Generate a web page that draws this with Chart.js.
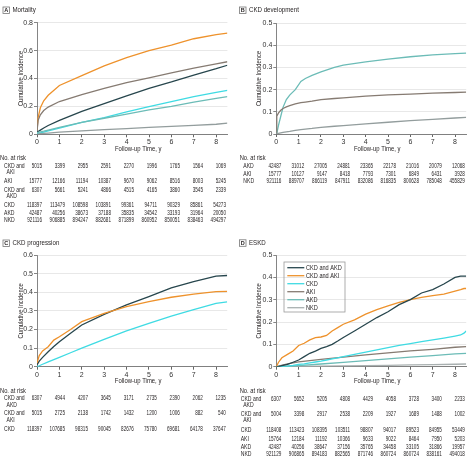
<!DOCTYPE html>
<html lang="en">
<head>
  <meta charset="UTF-8" />
  <title>Cumulative incidence by kidney disease group</title>
  <script src="https://cdn.jsdelivr.net/npm/chart.js@4.4.0/dist/chart.umd.min.js"></script>
  <style>
body { margin: 0; background: #fff; width: 467px; height: 463px; position: relative; overflow: hidden; }
canvas { position: absolute; }
  </style>
</head>
<body>
  <canvas id="chA" width="233" height="230" style="left:0;top:0"></canvas>
  <canvas id="chB" width="234" height="230" style="left:233px;top:0"></canvas>
  <canvas id="chC" width="233" height="233" style="left:0;top:230px"></canvas>
  <canvas id="chD" width="234" height="233" style="left:233px;top:230px"></canvas>

  <script>
    // x ticks / risk table columns
    const years = [0, 1, 2, 3, 4, 5, 6, 7, 8];
    const X_MAX = 8.5;

    // A - mortality
    const aX       = [0, 0.05, 0.15, 0.3, 0.5, 1, 2, 3, 4, 5, 6, 7, 8, 8.5];
    const aCkdAki  = [0.03, 0.12, 0.19, 0.24, 0.28, 0.35, 0.42, 0.49, 0.55, 0.60, 0.64, 0.685, 0.715, 0.725];
    const aAki     = [0.02, 0.10, 0.14, 0.17, 0.195, 0.235, 0.285, 0.33, 0.37, 0.405, 0.44, 0.475, 0.505, 0.52];
    const aCkdAkd  = [0.015, 0.02, 0.03, 0.045, 0.063, 0.10, 0.165, 0.22, 0.275, 0.33, 0.375, 0.425, 0.47, 0.495];
    const aCkd     = [0.005, 0.007, 0.01, 0.015, 0.025, 0.045, 0.085, 0.12, 0.16, 0.198, 0.235, 0.27, 0.30, 0.315];
    const aAkd     = [0.01, 0.013, 0.017, 0.022, 0.03, 0.05, 0.085, 0.115, 0.145, 0.175, 0.20, 0.23, 0.258, 0.27];
    const aNkd     = [0, 0.002, 0.004, 0.006, 0.009, 0.016, 0.025, 0.033, 0.041, 0.049, 0.057, 0.064, 0.072, 0.08];
    const aYTicks  = [0, 0.2, 0.4, 0.6, 0.8];

    // B - CKD development
    const bX    = [0, 0.02, 0.1, 0.2, 0.3, 0.45, 0.6, 0.85, 1.1, 1.3, 1.6, 2, 2.6, 3, 4, 5, 6, 7, 8, 8.5];
    const bAkd  = [0, 0.002, 0.04, 0.08, 0.12, 0.155, 0.175, 0.20, 0.237, 0.25, 0.264, 0.28, 0.30, 0.31, 0.325, 0.337, 0.348, 0.356, 0.362, 0.364];
    const bAki  = [0, 0.08, 0.095, 0.107, 0.115, 0.122, 0.128, 0.136, 0.141, 0.144, 0.148, 0.155, 0.16, 0.163, 0.171, 0.176, 0.18, 0.184, 0.187, 0.189];
    const bNkd  = [0, 0.001, 0.003, 0.005, 0.007, 0.01, 0.012, 0.016, 0.02, 0.022, 0.025, 0.03, 0.035, 0.038, 0.046, 0.053, 0.06, 0.066, 0.072, 0.075];
    const bYTicks = [0, 0.1, 0.2, 0.3, 0.4, 0.5];

    // C - CKD progression
    const cX      = [0, 0.1, 0.25, 0.5, 0.75, 1, 1.5, 2, 3, 4, 5, 6, 7, 8, 8.5];
    const cCkdAkd = [0.01, 0.03, 0.05, 0.08, 0.108, 0.134, 0.18, 0.224, 0.281, 0.332, 0.376, 0.423, 0.457, 0.487, 0.49];
    const cCkdAki = [0.02, 0.06, 0.085, 0.107, 0.143, 0.161, 0.20, 0.242, 0.287, 0.323, 0.35, 0.373, 0.39, 0.403, 0.405];
    const cCkd    = [0, 0.005, 0.013, 0.026, 0.038, 0.05, 0.075, 0.10, 0.147, 0.193, 0.233, 0.272, 0.307, 0.34, 0.348];
    const cYTicks = [0, 0.1, 0.2, 0.3, 0.4, 0.5, 0.6];

    // D - ESKD
    const dX      = [0, 0.1, 0.25, 0.5, 0.75, 1, 1.25, 1.5, 1.75, 2, 2.25, 2.5, 2.75, 3, 3.5, 4, 4.5, 5, 5.5, 6, 6.5, 7, 7.5, 8, 8.25, 8.4, 8.5];
    const dCkdAkd = [0, 0, 0.005, 0.01, 0.02, 0.03, 0.045, 0.06, 0.07, 0.082, 0.09, 0.10, 0.115, 0.131, 0.16, 0.19, 0.22, 0.246, 0.278, 0.30, 0.33, 0.345, 0.37, 0.40, 0.405, 0.405, 0.405];
    const dCkdAki = [0, 0.02, 0.04, 0.055, 0.07, 0.095, 0.105, 0.12, 0.13, 0.133, 0.14, 0.16, 0.175, 0.19, 0.21, 0.235, 0.255, 0.272, 0.288, 0.30, 0.31, 0.318, 0.325, 0.338, 0.345, 0.35, 0.35];
    const dCkd    = [0, 0, 0.001, 0.003, 0.006, 0.01, 0.013, 0.017, 0.021, 0.025, 0.03, 0.035, 0.04, 0.045, 0.055, 0.065, 0.075, 0.085, 0.095, 0.103, 0.112, 0.12, 0.128, 0.137, 0.142, 0.15, 0.16];
    const dXs     = [0, 0.5, 1, 2, 3, 4, 5, 6, 7, 8, 8.5];
    const dAki    = [0, 0.013, 0.022, 0.033, 0.043, 0.053, 0.062, 0.071, 0.078, 0.087, 0.09];
    const dAkd    = [0, 0.002, 0.005, 0.012, 0.019, 0.027, 0.035, 0.043, 0.05, 0.057, 0.06];
    const dNkd    = [0, 0.001, 0.001, 0.003, 0.004, 0.005, 0.006, 0.008, 0.009, 0.011, 0.012];
    const dYTicks = [0, 0.1, 0.2, 0.3, 0.4, 0.5];

    // numbers at risk
    const riskA_ckdAki = [5015, 3399, 2955, 2591, 2270, 1996, 1765, 1564, 1069];
    const riskA_aki    = [15777, 12166, 11194, 10387, 9670, 9062, 8516, 8003, 5245];
    const riskA_ckdAkd = [6307, 5661, 5241, 4866, 4515, 4165, 3860, 3545, 2339];
    const riskA_ckd    = [118397, 113479, 108598, 103891, 99361, 94711, 90329, 85861, 54273];
    const riskA_akd    = [42487, 40256, 38673, 37188, 35835, 34542, 33193, 31964, 20050];
    const riskA_nkd    = [921116, 906885, 894247, 882681, 871899, 860952, 850051, 838463, 494297];

    const riskB_akd = [42487, 31012, 27005, 24881, 23365, 22178, 21016, 20079, 12068];
    const riskB_aki = [15777, 10127, 9147, 8418, 7793, 7301, 6849, 6431, 3928];
    const riskB_nkd = [921116, 889707, 866119, 847911, 832086, 816835, 800628, 785048, 455829];

    const riskC_ckdAkd = [6307, 4944, 4207, 3645, 3171, 2735, 2390, 2062, 1235];
    const riskC_ckdAki = [5015, 2725, 2138, 1742, 1432, 1200, 1006, 882, 540];
    const riskC_ckd    = [118397, 107685, 98315, 90045, 82676, 75780, 69681, 64178, 37647];

    const riskD_ckdAkd = [6307, 5652, 5205, 4808, 4429, 4058, 3728, 3400, 2233];
    const riskD_ckdAki = [5004, 3398, 2917, 2538, 2209, 1927, 1689, 1488, 1002];
    const riskD_ckd    = [118408, 113423, 108395, 103511, 98807, 94017, 89523, 84955, 53449];
    const riskD_aki    = [15764, 12184, 11192, 10366, 9633, 9022, 8464, 7950, 5203];
    const riskD_akd    = [42487, 40256, 38647, 37156, 35765, 34458, 33105, 31866, 19957];
    const riskD_nkd    = [921129, 906865, 894183, 882565, 871746, 860724, 860724, 838161, 494018];

    const col = {
      ckdAkd: '#27464d', ckdAki: '#ee922c', ckd: '#3fdbe3',
      aki: '#867b72', akd: '#6cbcb7', nkd: '#939d9d'
    };

    const FONT = '"Liberation Sans", Arial, sans-serif';
    Chart.defaults.font.family = FONT;
    Chart.defaults.font.size = 7;
    Chart.defaults.color = '#333';

    // condensed text helper
    function txt(ctx, s, x, y, size, o = {}) {
      ctx.save();
      ctx.font = (o.bold ? 'bold ' : '') + size + 'px ' + FONT;
      ctx.fillStyle = o.color || '#231f20';
      ctx.textBaseline = 'middle';
      ctx.textAlign = o.align || 'left';
      ctx.translate(x, y);
      if (o.rot) ctx.rotate(o.rot);
      ctx.scale(o.sx || 0.78, 1);
      ctx.fillText(s, 0, 0);
      ctx.restore();
    }

    const panelPlugin = {
      id: 'panel',
      afterDraw(chart, args, o) {
        const ctx = chart.ctx, ca = chart.chartArea, xs = chart.scales.x;
        // letter box + title
        ctx.save();
        ctx.strokeStyle = '#777'; ctx.lineWidth = 0.8;
        ctx.strokeRect(o.box[0] + 0.5, o.box[1] + 0.5, 6.5, 6.5);
        ctx.restore();
        txt(ctx, o.letter, o.box[0] + 3.75, o.box[1] + 4, 5.5, {bold: true, sx: 1, align: 'center'});
        txt(ctx, o.title, o.box[0] + 10, o.box[1] + 3.8, 7.5, {sx: 0.82});
        // axis titles
        txt(ctx, 'Cumulative Incidence', o.yTitleX, (ca.top + ca.bottom) / 2, 7.5, {rot: -Math.PI / 2, align: 'center', sx: 0.77});
        txt(ctx, 'Follow-up Time, y', (ca.left + ca.right) / 2 + 6, ca.bottom + 14.5, 7.5, {align: 'center', sx: 0.79});
        // numbers at risk
        txt(ctx, 'No. at risk', o.headX, o.headY, 7.2, {sx: 0.8});
        o.rows.forEach(r => {
          r.label.forEach((line, k) => txt(ctx, line, o.labX + (k ? 2.5 : 0), r.y + k * 6.5, 6.8, {sx: 0.75}));
          r.vals.forEach((v, i) => txt(ctx, String(v), xs.getPixelForValue(years[i]) + 5 + 0.6 * i, r.y, 6.6, {align: 'right', sx: 0.7}));
        });
        // inset legend (panel D)
        if (o.legend) {
          ctx.save();
          ctx.strokeStyle = '#999'; ctx.lineWidth = 0.8;
          ctx.strokeRect(ca.left + 7.7, ca.top + 7, 61, 50);
          chart.data.datasets.forEach((ds, i) => {
            const yy = ca.top + 12.7 + i * 8;
            ctx.strokeStyle = ds.borderColor; ctx.lineWidth = 1.3;
            ctx.beginPath(); ctx.moveTo(ca.left + 11, yy); ctx.lineTo(ca.left + 28, yy); ctx.stroke();
            txt(ctx, ds.label, ca.left + 29.7, yy, 7, {sx: 0.8});
          });
          ctx.restore();
        }
      }
    };

    function makePanel(id, series, yMax, yTicks, lay, panel) {
      new Chart(document.getElementById(id), {
        type: 'line',
        data: {
          datasets: series.map(s => ({
            label: s.name,
            data: s.x.map((x, i) => ({x: x, y: s.y[i]})),
            borderColor: s.color, borderWidth: 1.3,
            pointRadius: 0, tension: 0, fill: false
          }))
        },
        options: {
          responsive: false, animation: false,
          layout: {padding: {left: 0, top: lay.top, right: lay.right, bottom: lay.bottom}},
          plugins: {legend: {display: false}, tooltip: {enabled: false}, panel: panel},
          scales: {
            x: {
              type: 'linear', min: 0, max: X_MAX,
              afterBuildTicks: s => { s.ticks = years.map(v => ({value: v})); },
              afterFit: s => { s.height = 12; },
              grid: {drawOnChartArea: false, drawTicks: true, tickLength: 3, tickColor: '#666'},
              border: {color: '#666', width: 0.8},
              ticks: {padding: 1, maxRotation: 0}
            },
            y: {
              min: 0, max: yMax,
              afterBuildTicks: s => { s.ticks = yTicks.map(v => ({value: v})); },
              afterFit: s => { s.width = lay.left; },
              grid: {color: '#e2e2e2', lineWidth: 0.8, drawTicks: true, tickLength: 3, tickColor: '#666'},
              border: {color: '#666', width: 0.8},
              ticks: {padding: 1, callback: v => v === 0 ? '0' : v.toFixed(1)}
            }
          }
        },
        plugins: [panelPlugin]
      });
    }

    makePanel('chA', [
      {name: 'NKD', x: aX, y: aNkd, color: col.nkd},
      {name: 'AKD', x: aX, y: aAkd, color: col.akd},
      {name: 'CKD', x: aX, y: aCkd, color: col.ckd},
      {name: 'CKD and AKD', x: aX, y: aCkdAkd, color: col.ckdAkd},
      {name: 'AKI', x: aX, y: aAki, color: col.aki},
      {name: 'CKD and AKI', x: aX, y: aCkdAki, color: col.ckdAki}
    ], 0.8, aYTicks, {left: 37, top: 22.7, right: 5.6, bottom: 83.7}, {
      letter: 'A', title: 'Mortality', box: [2.5, 6.5], yTitleX: 20.5,
      headX: 0, headY: 158, labX: 4,
      rows: [
        {label: ['CKD and', 'AKI'], y: 165.7, vals: riskA_ckdAki},
        {label: ['AKI'], y: 181.3, vals: riskA_aki},
        {label: ['CKD and', 'AKD'], y: 190, vals: riskA_ckdAkd},
        {label: ['CKD'], y: 205.3, vals: riskA_ckd},
        {label: ['AKD'], y: 212.7, vals: riskA_akd},
        {label: ['NKD'], y: 219.7, vals: riskA_nkd}
      ]
    });

    makePanel('chB', [
      {name: 'NKD', x: bX, y: bNkd, color: col.nkd},
      {name: 'AKI', x: bX, y: bAki, color: col.aki},
      {name: 'AKD', x: bX, y: bAkd, color: col.akd}
    ], 0.5, bYTicks, {left: 43.3, top: 23, right: 0.8, bottom: 84}, {
      letter: 'B', title: 'CKD development', box: [6, 6.5], yTitleX: 26,
      headX: 6.7, headY: 158.3, labX: 10.3,
      rows: [
        {label: ['AKD'], y: 166.3, vals: riskB_akd},
        {label: ['AKI'], y: 173.7, vals: riskB_aki},
        {label: ['NKD'], y: 181, vals: riskB_nkd}
      ]
    });

    makePanel('chC', [
      {name: 'CKD', x: cX, y: cCkd, color: col.ckd},
      {name: 'CKD and AKI', x: cX, y: cCkdAki, color: col.ckdAki},
      {name: 'CKD and AKD', x: cX, y: cCkdAkd, color: col.ckdAkd}
    ], 0.6, cYTicks, {left: 37, top: 25, right: 5.8, bottom: 84.3}, {
      letter: 'C', title: 'CKD progression', box: [2.5, 9.5], yTitleX: 20.5,
      headX: 0, headY: 160.7, labX: 4,
      rows: [
        {label: ['CKD and', 'AKD'], y: 168.3, vals: riskC_ckdAkd},
        {label: ['CKD and', 'AKI'], y: 183.3, vals: riskC_ckdAki},
        {label: ['CKD'], y: 198.7, vals: riskC_ckd}
      ]
    });

    makePanel('chD', [
      {name: 'CKD and AKD', x: dX, y: dCkdAkd, color: col.ckdAkd},
      {name: 'CKD and AKI', x: dX, y: dCkdAki, color: col.ckdAki},
      {name: 'CKD', x: dX, y: dCkd, color: col.ckd},
      {name: 'AKI', x: dXs, y: dAki, color: col.aki},
      {name: 'AKD', x: dXs, y: dAkd, color: col.akd},
      {name: 'NKD', x: dXs, y: dNkd, color: '#a9b0b0'}
    ], 0.5, dYTicks, {left: 43.3, top: 25, right: 0.8, bottom: 84.3}, {
      letter: 'D', title: 'ESKD', box: [6, 9.3], yTitleX: 26,
      headX: 6.7, headY: 161, labX: 7.7, legend: true,
      rows: [
        {label: ['CKD and', 'AKD'], y: 168.7, vals: riskD_ckdAkd},
        {label: ['CKD and', 'AKI'], y: 184, vals: riskD_ckdAki},
        {label: ['CKD'], y: 199.7, vals: riskD_ckd},
        {label: ['AKI'], y: 208.7, vals: riskD_aki},
        {label: ['AKD'], y: 216.7, vals: riskD_akd},
        {label: ['NKD'], y: 224.3, vals: riskD_nkd}
      ]
    });
  </script>
</body>
</html>
